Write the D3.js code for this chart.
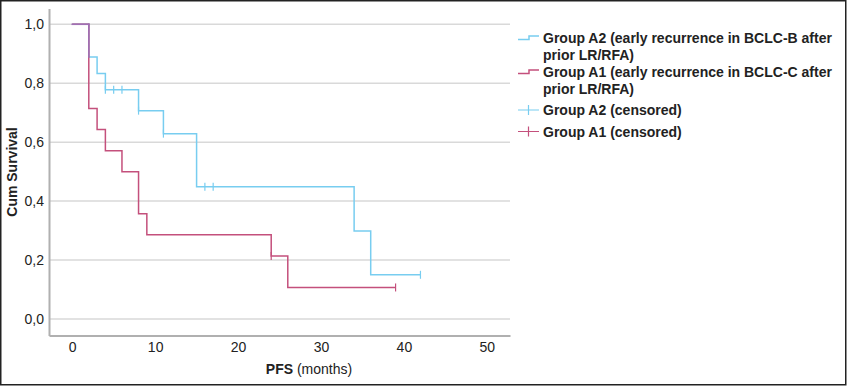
<!DOCTYPE html>
<html>
<head>
<meta charset="utf-8">
<script src="https://cdn.jsdelivr.net/npm/d3@7"></script>
<style>
  html, body { margin: 0; padding: 0; background: #fff; }
  svg { display: block; font-family: "Liberation Sans", Arial, sans-serif; }
</style>
</head>
<body>
<svg id="chart" width="847" height="386"></svg>
<script>
// Kaplan-Meier steps
const a2Times = [0, 2, 3, 4, 8, 11, 15, 34, 36, 42];
const a2Surv = [1.0, 0.889, 0.833, 0.778, 0.707, 0.629, 0.449, 0.299, 0.150, 0.150];
const a2Censored = [4, 5, 6, 8, 11, 16, 17, 42];

const a1Times = [0, 2, 3, 4, 6, 8, 9, 24, 26, 39];
const a1Surv = [1.0, 0.714, 0.643, 0.571, 0.500, 0.357, 0.286, 0.214, 0.107, 0.107];
const a1Censored = [24, 39];

const xTicks = [0, 10, 20, 30, 40, 50];
const yTicks = [0, 0.2, 0.4, 0.6, 0.8, 1.0];

const legendLabels = [
  ['Group A2 (early recurrence in BCLC-B after', 'prior LR/RFA)'],
  ['Group A1 (early recurrence in BCLC-C after', 'prior LR/RFA)'],
  ['Group A2 (censored)'],
  ['Group A1 (censored)']
];

const BLUE = '#78cdf0';
const RED = '#c4507c';
const PURPLE = '#a070b4';

const svg = d3.select('#chart');

// outer frame
svg.append('rect')
  .attr('x', 0.75).attr('y', 0.75)
  .attr('width', 845).attr('height', 384)
  .attr('fill', 'none')
  .attr('stroke', '#222')
  .attr('stroke-width', 1.5);

const x = d3.scaleLinear().domain([-2.8, 52.8]).range([49, 510]);
const y = d3.scaleLinear().domain([-0.056, 1.054]).range([335.5, 8.4]);

// gridlines
svg.append('g')
  .selectAll('line')
  .data(yTicks)
  .enter()
  .append('line')
  .attr('x1', x.range()[0])
  .attr('x2', x.range()[1])
  .attr('y1', d => y(d))
  .attr('y2', d => y(d))
  .attr('stroke', '#d9d9d9')
  .attr('stroke-width', 1.5);

// axes (no tick marks, just labels)
const fmt = d => d3.format('.1f')(d).replace('.', ',');

const yAxis = svg.append('g')
  .attr('transform', `translate(${x.range()[0]},0)`)
  .call(d3.axisLeft(y).tickValues(yTicks).tickFormat(fmt).tickSize(0).tickPadding(5));
const xAxis = svg.append('g')
  .attr('transform', `translate(0,${y.range()[0]})`)
  .call(d3.axisBottom(x).tickValues(xTicks).tickSize(0).tickPadding(7));

[xAxis, yAxis].forEach(ax => {
  ax.select('.domain').attr('stroke', '#b0b0b0').attr('stroke-width', 2);
  ax.selectAll('text')
    .attr('font-size', 14)
    .attr('font-family', '"Liberation Sans", Arial, sans-serif')
    .attr('fill', '#222');
});

// axis titles
svg.append('text')
  .attr('transform', 'translate(17,172) rotate(-90)')
  .attr('text-anchor', 'middle')
  .attr('font-size', 14)
  .attr('font-weight', 'bold')
  .attr('fill', '#222')
  .text('Cum Survival');

const xTitle = svg.append('text')
  .attr('x', 309)
  .attr('y', 373.5)
  .attr('text-anchor', 'middle')
  .attr('font-size', 14)
  .attr('fill', '#222');
xTitle.append('tspan').attr('font-weight', 'bold').text('PFS');
xTitle.append('tspan').text(' (months)');

// step segments for a KM curve
function stepSegments(times, surv) {
  const segs = [];
  for (let i = 1; i < times.length; i++) {
    segs.push({ type: 'h', y: surv[i - 1], a: times[i - 1], b: times[i] });
    if (surv[i] !== surv[i - 1]) {
      segs.push({ type: 'v', x: times[i], a: surv[i], b: surv[i - 1] });
    }
  }
  return segs;
}

function stepPath(times, surv) {
  const pts = [[times[0], surv[0]]];
  for (let i = 1; i < times.length; i++) {
    pts.push([times[i], surv[i - 1]]);
    pts.push([times[i], surv[i]]);
  }
  return d3.line().x(d => x(d[0])).y(d => y(d[1]))(pts);
}

function survAt(times, surv, t) {
  let s = surv[0];
  for (let i = 0; i < times.length; i++) if (times[i] <= t) s = surv[i];
  return s;
}

const curves = svg.append('g').attr('fill', 'none').attr('stroke-width', 1.5);

curves.append('path').attr('d', stepPath(a2Times, a2Surv)).attr('stroke', BLUE);
curves.append('path').attr('d', stepPath(a1Times, a1Surv)).attr('stroke', RED);

// where both curves run together SPSS shows a mixed colour
const segA2 = stepSegments(a2Times, a2Surv);
const segA1 = stepSegments(a1Times, a1Surv);
const overlaps = [];
segA2.forEach(s => {
  segA1.forEach(r => {
    if (s.type !== r.type) return;
    if (s.type === 'h' && s.y === r.y) {
      const a = Math.max(s.a, r.a), b = Math.min(s.b, r.b);
      if (b > a) overlaps.push([[a, s.y], [b, s.y]]);
    }
    if (s.type === 'v' && s.x === r.x) {
      const a = Math.max(s.a, r.a), b = Math.min(s.b, r.b);
      if (b > a) overlaps.push([[s.x, a], [s.x, b]]);
    }
  });
});
curves.selectAll('.ov')
  .data(overlaps)
  .enter()
  .append('path')
  .attr('class', 'ov')
  .attr('d', d3.line().x(d => x(d[0])).y(d => y(d[1])))
  .attr('stroke', PURPLE)
  .attr('stroke-linecap', 'square');

// censor marks
function censorMarks(times, surv, cens, color) {
  curves.selectAll(null)
    .data(cens)
    .enter()
    .append('line')
    .attr('x1', d => x(d))
    .attr('x2', d => x(d))
    .attr('y1', d => y(survAt(times, surv, d)) - 4)
    .attr('y2', d => y(survAt(times, surv, d)) + 4)
    .attr('stroke', color)
    .attr('stroke-width', 1.2);
}
censorMarks(a2Times, a2Surv, a2Censored, BLUE);
censorMarks(a1Times, a1Surv, a1Censored, RED);

// legend
const legend = svg.append('g').attr('font-size', 14).attr('font-weight', 'bold').attr('fill', '#222');
const legendY = [43, 77, 115, 136.5];
const legendColors = [BLUE, RED, BLUE, RED];

legendLabels.forEach((lines, i) => {
  const t = legend.append('text').attr('x', 543).attr('y', legendY[i]);
  lines.forEach((l, j) => {
    t.append('tspan').attr('x', 543).attr('dy', j === 0 ? 0 : 17).text(l);
  });
  const cy = legendY[i] - 5;
  if (i < 2) {
    legend.append('path')
      .attr('d', `M518,${cy + 1.5}H529V${cy - 2}H539`)
      .attr('fill', 'none')
      .attr('stroke', legendColors[i])
      .attr('stroke-width', 1.5);
  } else {
    legend.append('path')
      .attr('d', `M518,${cy}H539M528.5,${cy - 5}V${cy + 5}`)
      .attr('fill', 'none')
      .attr('stroke', legendColors[i])
      .attr('stroke-width', 1.2);
  }
});
</script>
</body>
</html>
